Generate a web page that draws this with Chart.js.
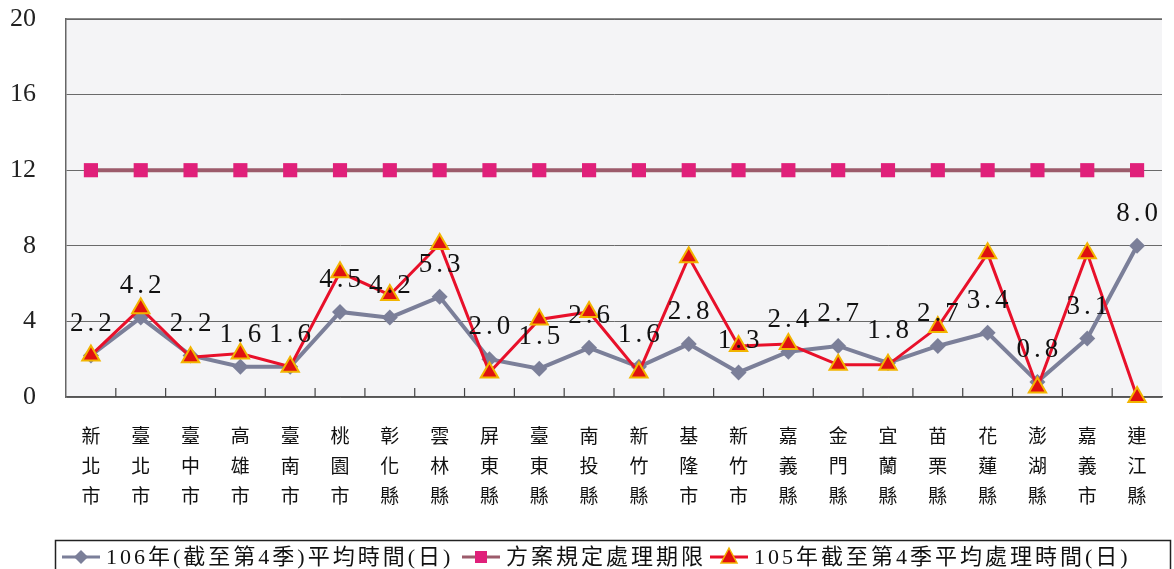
<!DOCTYPE html>
<html>
<head>
<meta charset="utf-8">
<script src="https://cdn.jsdelivr.net/npm/chart.js@4"></script>
<style>
  html, body { margin: 0; padding: 0; background: #ffffff; }
  #wrap { width: 1174px; height: 569px; position: relative; }
</style>
</head>
<body>
<div id="wrap"><canvas id="myChart" width="1174" height="569"></canvas></div>
<script>
// categories (counties / cities)
const cities = ['新北市', '臺北市', '臺中市', '高雄市', '臺南市', '桃園市', '彰化縣', '雲林縣', '屏東縣', '臺東縣', '南投縣',
  '新竹縣', '基隆市', '新竹市', '嘉義縣', '金門縣', '宜蘭縣', '苗栗縣', '花蓮縣', '澎湖縣', '嘉義市', '連江縣'];

// 106年(截至第4季)平均時間(日)
const avg106 = [2.2, 4.2, 2.2, 1.6, 1.6, 4.5, 4.2, 5.3, 2.0, 1.5, 2.6, 1.6, 2.8, 1.3, 2.4, 2.7, 1.8, 2.7, 3.4, 0.8, 3.1, 8.0];
// 方案規定處理期限
const limitDays = [12, 12, 12, 12, 12, 12, 12, 12, 12, 12, 12, 12, 12, 12, 12, 12, 12, 12, 12, 12, 12, 12];
// 105年截至第4季平均處理時間(日)
const avg105 = [2.2, 4.7, 2.1, 2.3, 1.6, 6.6, 5.4, 8.1, 1.3, 4.1, 4.5, 1.3, 7.4, 2.7, 2.8, 1.7, 1.7, 3.7, 7.6, 0.5, 7.6, 0.0];

const yTicks = [0, 4, 8, 12, 16, 20];
const seriesNames = ['106年(截至第4季)平均時間(日)', '方案規定處理期限', '105年截至第4季平均處理時間(日)'];

const serif = '"Liberation Serif", "DejaVu Serif", "Noto Sans CJK TC", serif';
const cjk = '"Noto Sans CJK TC", "Liberation Serif", serif';

// plot background, frame and inner ticks on the category axis
const framePlugin = {
  id: 'frame',
  beforeDraw(chart) {
    const { ctx, chartArea: a } = chart;
    ctx.save();
    ctx.fillStyle = '#f4f4f6';
    ctx.fillRect(a.left, a.top, a.right - a.left, a.bottom - a.top);
    ctx.restore();
  },
  afterDraw(chart) {
    const { ctx, chartArea: a, scales } = chart;
    ctx.save();
    ctx.strokeStyle = '#666';
    ctx.lineWidth = 1.5;
    ctx.beginPath();
    ctx.moveTo(a.left, a.top);
    ctx.lineTo(a.right, a.top);
    ctx.stroke();
    // small ticks pointing up from the axis at category borders
    const x = scales.x;
    ctx.strokeStyle = '#444';
    ctx.lineWidth = 1.2;
    for (let i = 1; i < cities.length; i++) {
      const px = (x.getPixelForValue(i - 1) + x.getPixelForValue(i)) / 2;
      ctx.beginPath();
      ctx.moveTo(px, a.bottom);
      ctx.lineTo(px, a.bottom - 9);
      ctx.stroke();
    }
    ctx.restore();
  }
};

// value labels for the 106 series, above its points
const labelPlugin = {
  id: 'valueLabels',
  afterDatasetsDraw(chart) {
    const { ctx } = chart;
    const meta = chart.getDatasetMeta(0);
    ctx.save();
    ctx.font = '27px ' + serif;
    ctx.fillStyle = '#111';
    ctx.textAlign = 'center';
    ctx.textBaseline = 'middle';
    ctx.letterSpacing = '4px';
    meta.data.forEach((pt, i) => {
      ctx.fillText(avg106[i].toFixed(1), pt.x + 2, pt.y - 32);
    });
    ctx.restore();
  }
};

// legend drawn in a framed box at the bottom
function drawSample(ctx, x, y, idx) {
  const ds = [
    { line: '#7b7f99', fill: '#7b7f99', stroke: '#7b7f99', shape: 'diamond' },
    { line: '#9c5b6b', fill: '#e0207a', stroke: '#e0207a', shape: 'square' },
    { line: '#e8102a', fill: '#e01010', stroke: '#f2b400', shape: 'triangle' }
  ][idx];
  ctx.save();
  ctx.strokeStyle = ds.line;
  ctx.lineWidth = 3;
  ctx.beginPath();
  ctx.moveTo(x, y);
  ctx.lineTo(x + 38, y);
  ctx.stroke();
  const cx = x + 19;
  ctx.fillStyle = ds.fill;
  ctx.beginPath();
  if (ds.shape === 'diamond') {
    ctx.moveTo(cx, y - 7); ctx.lineTo(cx + 7, y); ctx.lineTo(cx, y + 7); ctx.lineTo(cx - 7, y);
  } else if (ds.shape === 'square') {
    ctx.rect(cx - 6, y - 6, 12, 12);
  } else {
    ctx.moveTo(cx, y - 9); ctx.lineTo(cx + 8, y + 6); ctx.lineTo(cx - 8, y + 6);
  }
  ctx.closePath();
  ctx.fill();
  if (ds.shape === 'triangle') {
    ctx.strokeStyle = ds.stroke;
    ctx.lineWidth = 1.5;
    ctx.stroke();
  }
  ctx.restore();
}

const legendPlugin = {
  id: 'boxLegend',
  afterDraw(chart) {
    const { ctx } = chart;
    const top = 540, left = 55, right = 1170, cy = 557;
    ctx.save();
    ctx.strokeStyle = '#222';
    ctx.lineWidth = 1.5;
    ctx.strokeRect(left + 0.5, top + 0.5, right - left, 40);
    ctx.font = '22px ' + serif;
    ctx.textBaseline = 'middle';
    ctx.letterSpacing = '3px';
    const starts = [62, 462, 710];
    starts.forEach((sx, i) => {
      drawSample(ctx, sx, cy, i);
      ctx.fillStyle = '#111';
      ctx.fillText(seriesNames[i], sx + 44, cy + 1);
    });
    ctx.restore();
  }
};

const ctx = document.getElementById('myChart').getContext('2d');
new Chart(ctx, {
  type: 'line',
  data: {
    labels: cities.map(c => c.split('')),
    datasets: [{
      label: seriesNames[0],
      data: avg106,
      borderColor: '#7b7f99',
      backgroundColor: '#7b7f99',
      borderWidth: 4,
      pointStyle: 'rectRot',
      pointRadius: 8,
      pointBorderWidth: 0,
      order: 3
    }, {
      label: seriesNames[1],
      data: limitDays,
      borderColor: '#9c5b6b',
      backgroundColor: '#e0207a',
      borderWidth: 4,
      pointStyle: 'rect',
      pointRadius: 10,
      pointBorderWidth: 0,
      order: 2
    }, {
      label: seriesNames[2],
      data: avg105,
      borderColor: '#e8102a',
      backgroundColor: '#e01010',
      borderWidth: 3,
      pointStyle: 'triangle',
      pointRadius: 10,
      pointBorderColor: '#f2b400',
      pointBorderWidth: 2,
      order: 1
    }]
  },
  options: {
    responsive: false,
    animation: false,
    clip: false,
    layout: { padding: { top: 19, left: 0, right: 0, bottom: 0 } },
    plugins: {
      legend: { display: false },
      tooltip: { enabled: false }
    },
    scales: {
      x: {
        offset: true,
        grid: { display: false, drawTicks: false },
        border: { display: true, color: '#555', width: 1.5 },
        ticks: {
          autoSkip: false,
          maxRotation: 0,
          minRotation: 0,
          padding: 24,
          color: '#111',
          font: { family: cjk, size: 19, lineHeight: 1.58 }
        },
        afterFit(scale) {
          scale.height = 172;
          scale.paddingLeft = 0;
          scale.paddingRight = 0;
          scale.paddingTop = 0;
          scale.paddingBottom = 0;
        }
      },
      y: {
        min: 0,
        max: 20,
        afterBuildTicks(scale) { scale.ticks = yTicks.map(v => ({ value: v })); },
        grid: { color: '#6a6a6a', lineWidth: 1, drawTicks: false },
        border: { display: true, color: '#666', width: 1.5 },
        ticks: {
          padding: 30,
          color: '#222',
          font: { family: serif, size: 26 }
        },
        afterFit(scale) {
          scale.width = 66;
          scale.paddingTop = 0;
          scale.paddingBottom = 0;
        }
      }
    }
  },
  plugins: [framePlugin, labelPlugin, legendPlugin]
});
</script>
</body>
</html>
